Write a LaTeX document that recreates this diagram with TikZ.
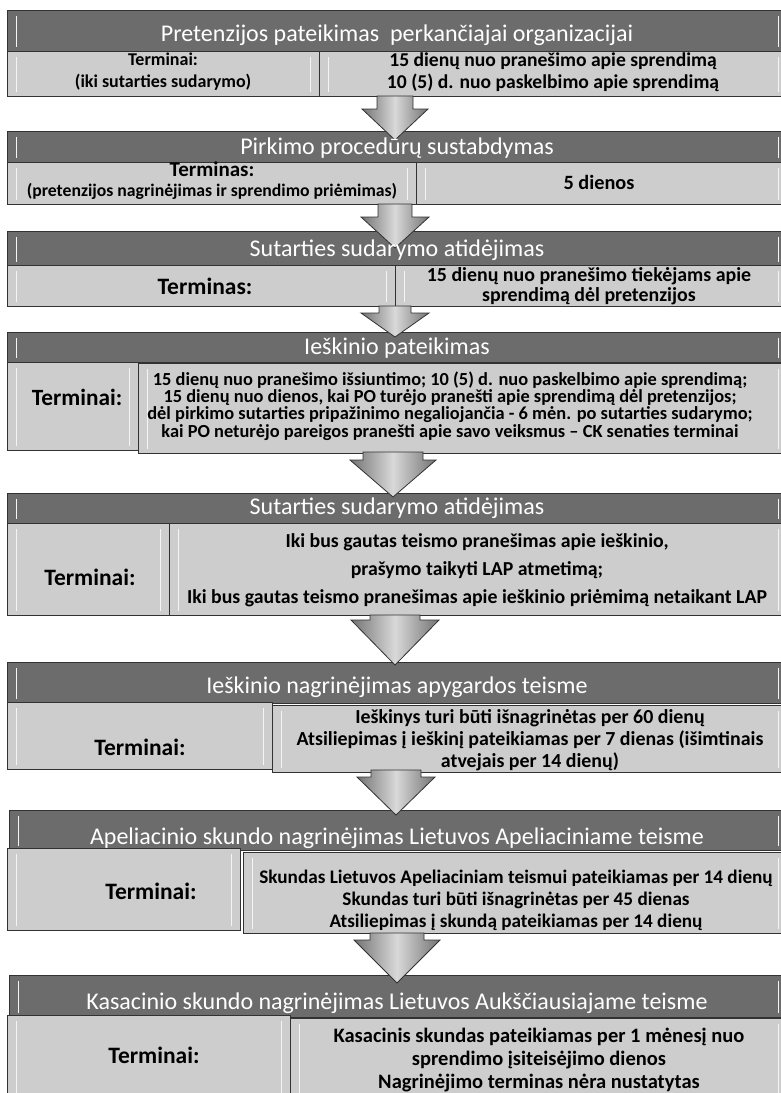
\documentclass[tikz,border=0pt]{standalone}
\usepackage{fontspec}
\setmainfont{Carlito}
\usetikzlibrary{calc}

\definecolor{headgray}{RGB}{108,108,108}
\definecolor{cellgray}{RGB}{205,205,205}
\definecolor{edgegray}{RGB}{50,50,50}
\newcommand\fsz[2]{\fontsize{#1}{#2}\selectfont}
\newcommand\flowarrow[5]{%
  \draw[flow] let \p1=(#1), \p2=(#2) in
    (\x1-#3,\y1) -- (\x1+#3,\y1) -- (\x1+#3,\y2+#5) -- (\x1+#4,\y2+#5)
    -- (\x2,\y2) -- (\x1-#4,\y2+#5) -- (\x1-#3,\y2+#5) -- cycle;}

\tikzset{
  bevel/.style={path picture={
    \draw[white!92!gray, line width=1.6pt]
      ([xshift=9pt,yshift=-5pt]path picture bounding box.north west) -- ([xshift=9pt,yshift=5pt]path picture bounding box.south west)
      ([xshift=-9pt,yshift=-5pt]path picture bounding box.north east) -- ([xshift=-9pt,yshift=5pt]path picture bounding box.south east);}},
  head/.style={draw=edgegray, fill=headgray, line width=1pt, anchor=north west, inner sep=0pt, bevel},
  cell/.style={draw=edgegray, fill=cellgray, line width=1pt, anchor=north west, inner sep=0pt, bevel},
  title/.style={text=white, font=\fsz{24}{26}, inner sep=0pt},
  info/.style={align=center, inner sep=0pt},
  flow/.style={draw=edgegray, line width=0.8pt, left color=black!55, right color=black!55, middle color=black!15}
}

\begin{document}
\begin{tikzpicture}[x=1pt,y=-1pt]
\useasboundingbox (0,0) rectangle (781,1093);
\clip (0,0) rectangle (781,1093);

\node[head, minimum width=780pt, minimum height=41pt] (h1) at (7,10) {};
\node[cell, minimum width=312pt, minimum height=45pt] (l1) at (7,51) {};
\node[cell, minimum width=468pt, minimum height=45pt] (r1) at (319,51) {};

\node[head, minimum width=780pt, minimum height=31pt] (h2) at (7,131) {};
\node[cell, minimum width=409pt, minimum height=42pt] (l2) at (7,162) {};
\node[cell, minimum width=371pt, minimum height=42pt] (r2) at (416,162) {};

\node[head, minimum width=780pt, minimum height=35pt] (h3) at (7,231) {};
\node[cell, minimum width=388pt, minimum height=41pt] (l3) at (7,265) {};
\node[cell, minimum width=392pt, minimum height=41pt] (r3) at (395,265) {};

\node[head, minimum width=780pt, minimum height=30pt] (h4) at (7,332) {};
\node[cell, minimum width=131pt, minimum height=88pt] (l4) at (7,362) {};
\node[cell, minimum width=649pt, minimum height=90pt] (r4) at (138,363) {};

\node[head, minimum width=780pt, minimum height=30pt] (h5) at (7,493) {};
\node[cell, minimum width=162pt, minimum height=92pt] (l5) at (7,523) {};
\node[cell, minimum width=618pt, minimum height=92pt] (r5) at (169,523) {};

\node[head, minimum width=780pt, minimum height=41pt] (h6) at (7,662) {};
\node[cell, minimum width=265pt, minimum height=67pt] (l6) at (7,702) {};
\node[cell, minimum width=515pt, minimum height=67pt] (r6) at (272,705) {};

\node[head, minimum width=778pt, minimum height=40pt] (h7) at (9,810) {};
\node[cell, minimum width=233pt, minimum height=82pt] (l7) at (7,848) {};
\node[cell, minimum width=544pt, minimum height=81pt] (r7) at (243,852) {};

\node[head, minimum width=778pt, minimum height=42pt] (h8) at (9,975) {};
\node[cell, minimum width=283pt, minimum height=95pt] (l8) at (7,1015) {};
\node[cell, minimum width=497pt, minimum height=95pt] (r8) at (290,1018) {};

\coordinate (a1) at (395,96);  \coordinate (b1) at (395,140);
\coordinate (a2) at (395,204); \coordinate (b2) at (395,248);
\coordinate (a3) at (395,306); \coordinate (b3) at (395,337);
\coordinate (a4) at (393,452); \coordinate (b4) at (393,497);
\coordinate (a5) at (395,615); \coordinate (b5) at (395,665);
\coordinate (a6) at (396,770); \coordinate (b6) at (396,815);
\coordinate (a7) at (397,933); \coordinate (b7) at (397,983);
\flowarrow{a1}{b1}{18pt}{33pt}{31pt}
\flowarrow{a2}{b2}{17pt}{34pt}{31pt}
\flowarrow{a3}{b3}{16pt}{34pt}{24pt}
\flowarrow{a4}{b4}{30pt}{43pt}{37pt}
\flowarrow{a5}{b5}{25pt}{44pt}{45pt}
\flowarrow{a6}{b6}{25pt}{39pt}{38pt}
\flowarrow{a7}{b7}{27pt}{43pt}{43pt}

\node[title] (t1) at (397,35) {Pretenzijos pateikimas\ \ perkančiajai organizacijai};
\node[info, font=\bfseries\fsz{18}{22}] (lt1) at (163,72) {Terminai:\\(iki sutarties sudarymo)};
\node[info, font=\bfseries\fsz{19.6}{22}] (rt1) at (553,72) {15 dienų nuo pranešimo apie sprendimą\\10 (5) d. nuo paskelbimo apie sprendimą};

\node[title] (t2) at (397,148) {Pirkimo procedūrų sustabdymas};
\node[info, font=\bfseries\fsz{17.7}{20}] (lt2) at (212,181) {{\fsz{21}{20}Terminas:}\\(pretenzijos nagrinėjimas ir sprendimo priėmimas)};
\node[info, font=\bfseries\fsz{20.3}{22}] (rt2) at (599,182) {5 dienos};

\node[title] (t3) at (397,250) {Sutarties sudarymo atidėjimas};
\node[info, font=\bfseries\fsz{23.5}{24}] (lt3) at (205,286) {Terminas:};
\node[info, font=\bfseries\fsz{19.9}{20.5}] (rt3) at (589,286) {15 dienų nuo pranešimo tiekėjams apie\\sprendimą dėl pretenzijos};

\node[title] (t4) at (397,348) {Ieškinio pateikimas};
\node[info, font=\bfseries\fsz{23.3}{24}] (lt4) at (77,397) {Terminai:};
\node[info, font=\bfseries\fsz{18.4}{17.4}] (rt4) at (450,406) {15 dienų nuo pranešimo išsiuntimo; 10 (5) d. nuo paskelbimo apie sprendimą;\\15 dienų nuo dienos, kai PO turėjo pranešti apie sprendimą dėl pretenzijos;\\dėl pirkimo sutarties pripažinimo negaliojančia - 6 mėn. po sutarties sudarymo;\\kai PO neturėjo pareigos pranešti apie savo veiksmus -- CK senaties terminai};

\node[title] (t5) at (397,508) {Sutarties sudarymo atidėjimas};
\node[info, font=\bfseries\fsz{23.5}{24}] (lt5) at (90,577) {Terminai:};
\node[info, font=\bfseries\fsz{19.8}{28}] (rt5) at (477,570) {Iki bus gautas teismo pranešimas apie ieškinio,\\prašymo taikyti LAP atmetimą;\\Iki bus gautas teismo pranešimas apie ieškinio priėmimą netaikant LAP};

\node[title] (t6) at (397,687) {Ieškinio nagrinėjimas apygardos teisme};
\node[info, font=\bfseries\fsz{23.5}{24}] (lt6) at (140,747) {Terminai:};
\node[info, font=\bfseries\fsz{19.9}{22}] (rt6) at (530,740) {Ieškinys turi būti išnagrinėtas per 60 dienų\\Atsiliepimas į ieškinį pateikiamas per 7 dienas (išimtinais\\atvejais per 14 dienų)};

\node[title] (t7) at (397,838) {Apeliacinio skundo nagrinėjimas Lietuvos Apeliaciniame teisme};
\node[info, font=\bfseries\fsz{23.5}{24}] (lt7) at (151,891) {Terminai:};
\node[info, font=\bfseries\fsz{19.2}{22}] (rt7) at (516,900) {Skundas Lietuvos Apeliaciniam teismui pateikiamas per 14 dienų\\Skundas turi būti išnagrinėtas per 45 dienas\\Atsiliepimas į skundą pateikiamas per 14 dienų};

\node[title] (t8) at (397,1003) {Kasacinio skundo nagrinėjimas Lietuvos Aukščiausiajame teisme};
\node[info, font=\bfseries\fsz{23.5}{24}] (lt8) at (154,1055) {Terminai:};
\node[info, font=\bfseries\fsz{20.5}{23}] (rt8) at (539,1060) {Kasacinis skundas pateikiamas per 1 mėnesį nuo\\sprendimo įsiteisėjimo dienos\\Nagrinėjimo terminas nėra nustatytas};
\end{tikzpicture}
\end{document}
